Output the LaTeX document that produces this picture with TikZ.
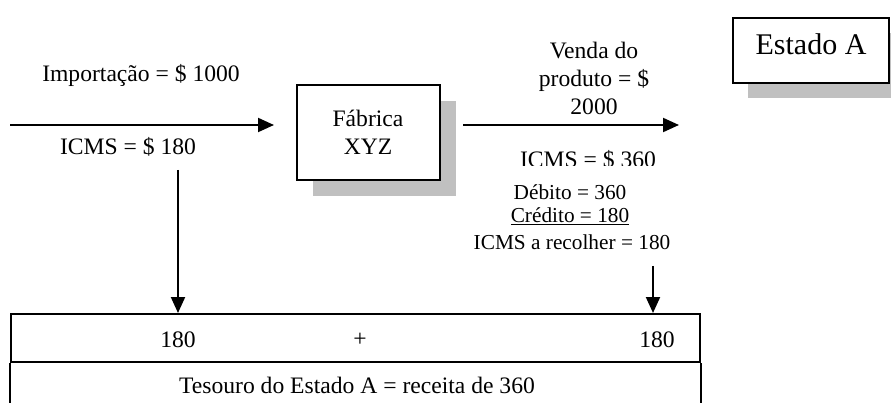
\documentclass[tikz,border=0pt]{standalone}
\usepackage{fontspec}
\setmainfont{Liberation Serif}
\usetikzlibrary{arrows.meta,shadows}
\definecolor{shade}{HTML}{C0C0C0}
\tikzset{
  x=1pt, y=-1pt,
  txt/.style={inner sep=0pt, font=\fontsize{23.6}{28}\selectfont, align=center},
  small/.style={txt, font=\fontsize{21.3}{25}\selectfont},
  box/.style={draw, line width=2pt, fill=white, inner sep=0pt, txt},
  shbox/.style={box, drop shadow={shadow xshift=16pt, shadow yshift=-16pt, fill=shade, opacity=1}},
  arr/.style={line width=2pt, -{Triangle[length=16pt,width=14pt]}},
  ln/.style={line width=2pt}
}
\begin{document}
\begin{tikzpicture}
\useasboundingbox (0,0) rectangle (891,403);
% Fabrica box
\node[shbox, minimum width=143pt, minimum height=95pt] (fab) at (368,132.5) {Fábrica\\XYZ};
% Estado A box
\node[box, minimum width=156pt, minimum height=65pt, drop shadow={shadow xshift=15pt, shadow yshift=-15pt, fill=shade, opacity=1}] (est) at (811,50.5) {};
\node[txt, font=\fontsize{30}{34}\selectfont] (estt) at (811,44) {Estado A};
% left arrow
\coordinate (lstart) at (10,125);
\coordinate (lend) at (274,125);
\draw[arr] (lstart) -- (lend);
\node[txt] (imp) at (141,75) {Importação = \$ 1000};
\node[txt] (icms1) at (128,147) {ICMS = \$ 180};
% right arrow
\coordinate (rstart) at (463,125);
\coordinate (rend) at (679,125);
\draw[arr] (rstart) -- (rend);
\node[txt] (venda) at (594,78) {Venda do\\produto = \$\\2000};
\begin{scope}
\clip (480,140) rectangle (700,166);
\node[txt] (icms2) at (588,160) {ICMS = \$ 360};
\end{scope}
\node[small] (deb) at (570,192) {Débito = 360};
\node[small] (cred) at (570,216) {\underline{Crédito = 180}};
\node[small] (rec) at (572,242) {ICMS a recolher = 180};
% bottom box
\node[draw, line width=2pt, minimum width=689pt, minimum height=48pt, inner sep=0pt] (top) at (355.5,338) {};
\draw[ln] (top.south west) -- ++(0,50);
\draw[ln] (top.south east) -- ++(0,50);
\node[txt] (v1) at (178,340) {180};
\node[txt] (plus) at (360,340) {+};
\node[txt] (v2) at (657,340) {180};
\node[txt] (tes) at (357,385) {Tesouro do Estado A = receita de 360};
% vertical arrows
\coordinate (d1) at (178,170);
\coordinate (d2) at (653,266);
\draw[arr] (d1) -- (d1 |- top.north);
\draw[arr] (d2) -- (d2 |- top.north);
\end{tikzpicture}
\end{document}
